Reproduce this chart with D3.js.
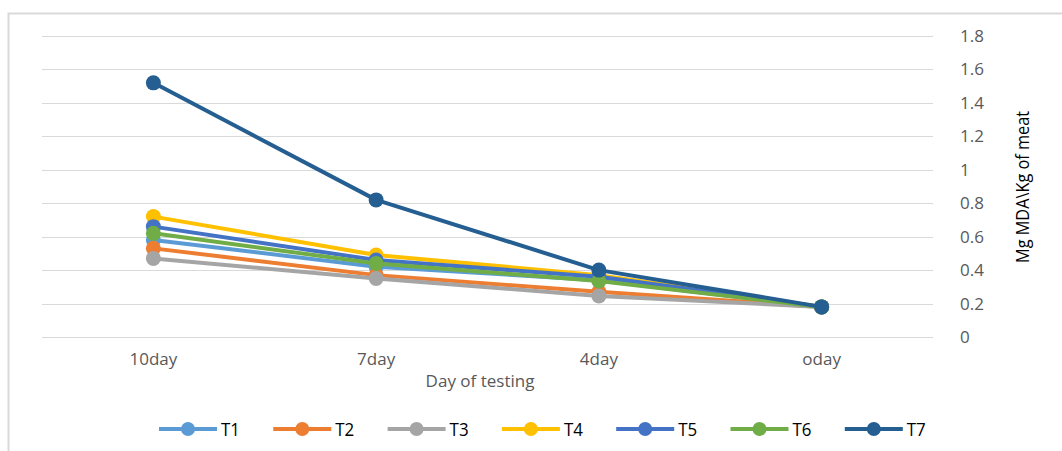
<!DOCTYPE html>
<html>
<head>
<meta charset="utf-8">
<script src="https://cdn.jsdelivr.net/npm/d3@7"></script>
<style>
body{margin:0;background:#fff;}
text{font-family:"Open Sans","Liberation Sans",sans-serif;}
</style>
</head>
<body>
<div id="chart"></div>
<script>
var categories=["10day","7day","4day","oday"];
var seriesNames=["T1","T2","T3","T4","T5","T6","T7"];
var T1=[0.58,0.42,0.34,0.18];
var T2=[0.53,0.37,0.27,0.18];
var T3=[0.47,0.35,0.245,0.18];
var T4=[0.72,0.49,0.37,0.18];
var T5=[0.66,0.46,0.36,0.18];
var T6=[0.62,0.44,0.335,0.18];
var T7=[1.52,0.82,0.40,0.18];
var yTicks=[0,0.2,0.4,0.6,0.8,1,1.2,1.4,1.6,1.8];
var colors=["#5B9BD5","#ED7D31","#A5A5A5","#FFC000","#4472C4","#70AD47","#255E91"];

var series=[T1,T2,T3,T4,T5,T6,T7].map(function(v,i){
    return {name:seriesNames[i],values:v,color:colors[i]};
});

var width=1062,height=451;
var svg=d3.select("#chart").append("svg")
    .attr("width",width).attr("height",height);

// chart frame (left + top edges visible)
svg.append("path")
    .attr("d","M8.5,451 L8.5,13.5 L1062,13.5")
    .attr("fill","none").attr("stroke","#d9d9d9").attr("stroke-width",2);

var x=d3.scaleBand().domain(categories).range([42,933]);
var y=d3.scaleLinear().domain([0,1.8]).range([337,36]);

var g=svg.append("g");

// gridlines
g.selectAll("line.grid").data(yTicks).enter().append("line")
    .attr("class","grid")
    .attr("x1",42).attr("x2",933)
    .attr("y1",function(d){return Math.round(y(d))+0.5})
    .attr("y2",function(d){return Math.round(y(d))+0.5})
    .attr("stroke","#d9d9d9").attr("stroke-width",1);

// right axis labels
var yAxis=d3.axisRight(y).tickValues(yTicks).tickSize(0).tickPadding(0)
    .tickFormat(function(d){return d===0?"0":d3.format("")(+d.toFixed(1))});
var ya=svg.append("g").attr("transform","translate(960,0)").call(yAxis);
ya.select(".domain").remove();
ya.selectAll("text").attr("font-size",17).attr("fill","#595959")
    .attr("font-family","'Open Sans',sans-serif");

// bottom axis labels
var xAxis=d3.axisBottom(x).tickSize(0).tickPadding(0);
var xa=svg.append("g").attr("transform","translate(0,353)").call(xAxis);
xa.select(".domain").remove();
xa.selectAll("text").attr("font-size",17).attr("fill","#595959")
    .attr("font-family","'Open Sans',sans-serif");

// axis titles
svg.append("text").attr("x",480).attr("y",387)
    .attr("text-anchor","middle").attr("font-size",17).attr("fill","#595959")
    .text("Day of testing");
svg.append("text")
    .attr("transform","translate(1029,187) rotate(-90)")
    .attr("text-anchor","middle").attr("font-size",18).attr("fill","#000")
    .attr("font-family","'Liberation Sans',sans-serif")
    .attr("textLength",152).attr("lengthAdjust","spacingAndGlyphs")
    .text("Mg MDA\\Kg of meat");

var line=d3.line()
    .x(function(d,i){return x(categories[i])+x.bandwidth()/2})
    .y(function(d){return y(d)});

var sg=g.selectAll("g.series").data(series).enter().append("g").attr("class","series");
sg.append("path")
    .attr("d",function(d){return line(d.values)})
    .attr("fill","none")
    .attr("stroke",function(d){return d.color})
    .attr("stroke-width",4)
    .attr("stroke-linejoin","round");
sg.selectAll("circle").data(function(d){
        return d.values.map(function(v,i){return {v:v,i:i,color:d.color}})
    }).enter().append("circle")
    .attr("cx",function(d){return x(categories[d.i])+x.bandwidth()/2})
    .attr("cy",function(d){return y(d.v)})
    .attr("r",7.5)
    .attr("fill",function(d){return d.color});

// legend
var leg=svg.append("g").attr("transform","translate(159,429)");
var li=leg.selectAll("g").data(series).enter().append("g")
    .attr("transform",function(d,i){return "translate("+(i*114.3)+",0)"});
li.append("line").attr("x1",0).attr("x2",58).attr("y1",0).attr("y2",0)
    .attr("stroke",function(d){return d.color}).attr("stroke-width",4);
li.append("circle").attr("cx",29).attr("cy",0).attr("r",7)
    .attr("fill",function(d){return d.color});
li.append("text").attr("x",62).attr("y",7).attr("font-size",18).attr("fill","#000")
    .attr("font-family","'Liberation Sans',sans-serif")
    .attr("textLength",19).attr("lengthAdjust","spacingAndGlyphs")
    .text(function(d){return d.name});
</script>
</body>
</html>
